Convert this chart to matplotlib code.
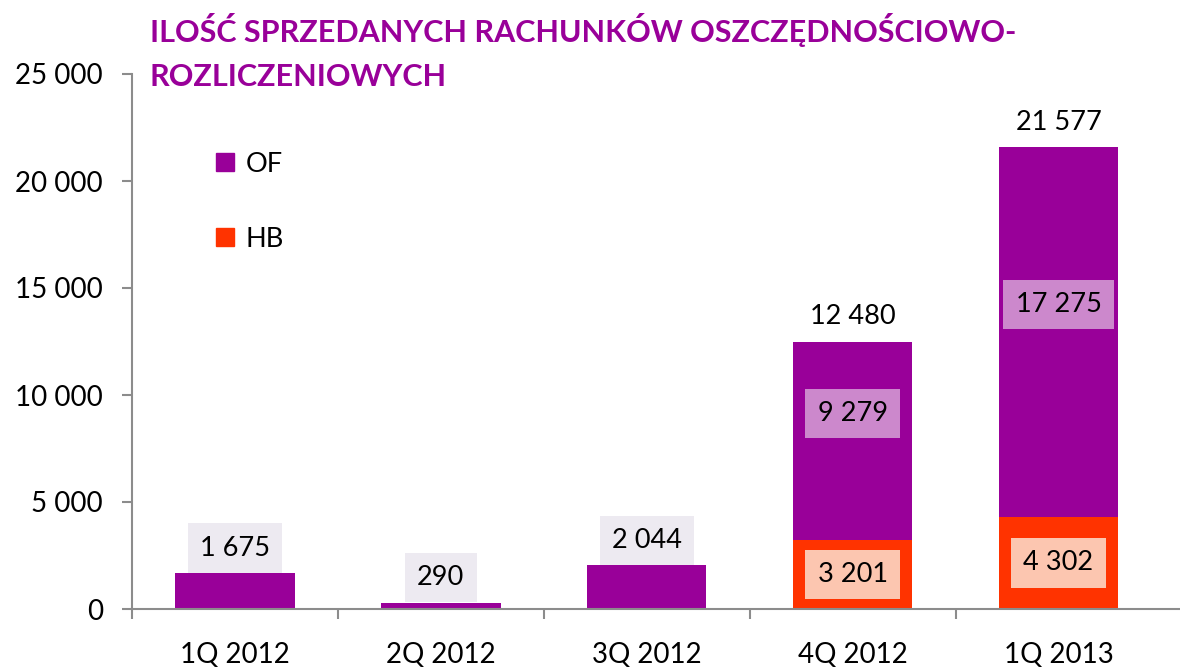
import matplotlib
matplotlib.use("Agg")
import matplotlib.pyplot as plt
import numpy as np
from matplotlib.patches import Patch

categories = ["1Q 2012", "2Q 2012", "3Q 2012", "4Q 2012", "1Q 2013"]
hb_values = [0, 0, 0, 3201, 4302]
of_values = [1675, 290, 2044, 9279, 17275]
y_ticks = [0, 5000, 10000, 15000, 20000, 25000]
title = "ILOŚĆ SPRZEDANYCH RACHUNKÓW OSZCZĘDNOŚCIOWO-\nROZLICZENIOWYCH"

def fmt(v):
    return f"{v:,}".replace(",", " ")

PURPLE = "#990099"
ORANGE = "#FF3300"
FONT = ["Lato", "DejaVu Sans"]
plt.rcParams['font.family'] = FONT

fig = plt.figure(figsize=(11.8, 6.68), dpi=100)
ax = fig.add_axes([132/1180, 1-609/668, 1-132/1180, (609-74)/668])

x = np.arange(len(categories))
w = 0.58
hb = np.array(hb_values)
of = np.array(of_values)
ax.bar(x, hb, w, color=ORANGE, label="HB", zorder=2)
ax.bar(x, of, w, bottom=hb, color=PURPLE, label="OF", zorder=2)

lab_fs = 19.5
for i in range(len(categories)):
    if hb[i] == 0:
        ax.annotate(fmt(of[i]), (x[i], of[i]), xytext=(0, 18), textcoords="offset points",
                    ha="center", va="center", fontsize=lab_fs,
                    bbox=dict(boxstyle="square,pad=0.45", fc="#EDEAF1", ec="none"), zorder=3)
    else:
        ax.annotate(fmt(hb[i]), (x[i], hb[i] / 2), ha="center", va="center", fontsize=lab_fs,
                    bbox=dict(boxstyle="square,pad=0.45", fc="#FCC6B0", ec="none"), zorder=3)
        ax.annotate(fmt(of[i]), (x[i], hb[i] + of[i] / 2), xytext=(0, 20), textcoords="offset points",
                    ha="center", va="center", fontsize=lab_fs,
                    bbox=dict(boxstyle="square,pad=0.45", fc="#CC88CC", ec="none"), zorder=3)
        tot = hb[i] + of[i]
        ax.annotate(fmt(tot), (x[i], tot), xytext=(0, 18), textcoords="offset points",
                    ha="center", va="center", fontsize=lab_fs, zorder=3)

ax.set_ylim(0, 25000)
ax.set_xlim(-0.5, 4.59)
ax.set_yticks(y_ticks)
ax.set_yticklabels([fmt(v) for v in y_ticks], fontsize=20)
ax.set_xticks(x)
ax.set_xticklabels(categories, fontsize=20)
ax.set_xticks(np.arange(-0.5, 4.0, 1.0), minor=True)
ax.tick_params(axis="x", which="major", length=0, pad=24)
ax.tick_params(axis="x", which="minor", length=7, width=1.5, color="#8C8C8C", direction="out")
ax.tick_params(axis="y", length=7, width=1.5, color="#8C8C8C", pad=14)

for s in ["top", "right"]:
    ax.spines[s].set_visible(False)
for s in ["left", "bottom"]:
    ax.spines[s].set_color("#8C8C8C")
    ax.spines[s].set_linewidth(1.5)
ax.spines["left"].set_bounds(0, 25000)

handles = [Patch(color=PURPLE, label="OF"), Patch(color=ORANGE, label="HB")]
ax.legend(handles=handles, loc="upper left", bbox_to_anchor=(0.07, 0.875), frameon=False,
          fontsize=19.5, handlelength=0.65, handleheight=0.65, handletextpad=0.45,
          labelspacing=1.85, borderaxespad=0)

fig.text(150/1180, 1-13/668, title, fontsize=22, fontweight="bold", color=PURPLE,
         ha="left", va="top", linespacing=1.7)

fig.savefig("out.png", dpi=100)
